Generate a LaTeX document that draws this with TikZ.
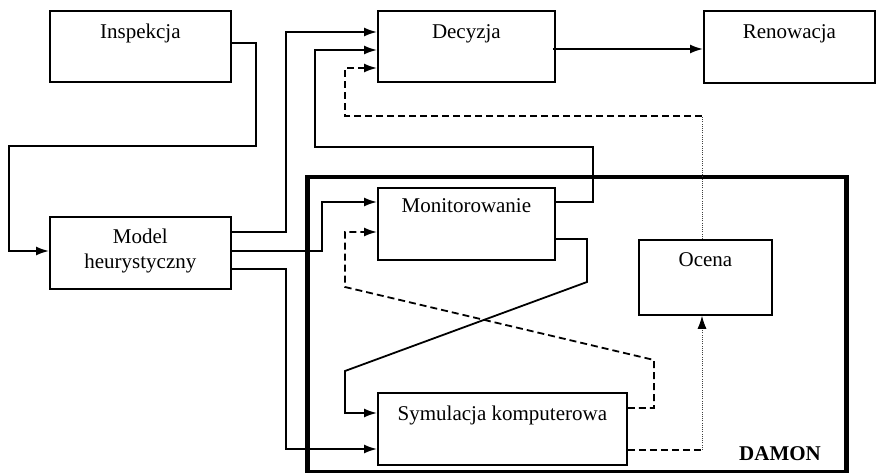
\documentclass[tikz,border=0pt]{standalone}
\usepackage{fontspec}
\setmainfont{Liberation Serif}
\usetikzlibrary{arrows.meta}
\begin{document}
\begin{tikzpicture}[x=1pt,y=-1pt,
  box/.style={draw, line width=1.8pt, inner sep=0pt, anchor=north west},
  txt/.style={anchor=base, inner sep=0pt, font=\fontsize{21}{25}\selectfont},
  conn/.style={line width=1.8pt},
  arr/.style={conn, -{Latex[length=13pt,width=9pt]}},
  dsh/.style={dash pattern=on 7pt off 4pt},
  dotl/.style={line width=1pt, dash pattern=on 1pt off 1.2pt, black!75},
]
\useasboundingbox (0,0) rectangle (876,473);
% frame
\node[draw, line width=4.5pt, inner sep=0pt, anchor=north west, minimum width=539pt, minimum height=295pt] (damon) at (305,175) {};
\node[txt, font=\fontsize{21}{25}\selectfont\bfseries] (damonT) at (780,460) {DAMON};
% boxes
\node[box, minimum width=181pt, minimum height=71pt] (insp) at (49,10) {};
\node[box, minimum width=177pt, minimum height=71pt] (dec) at (377,10) {};
\node[box, minimum width=171pt, minimum height=72pt] (ren) at (703,10) {};
\node[box, minimum width=181pt, minimum height=72pt] (model) at (49,216) {};
\node[box, minimum width=177pt, minimum height=72pt] (mon) at (377,187) {};
\node[box, minimum width=133pt, minimum height=75pt] (oc) at (638,239) {};
\node[box, minimum width=249pt, minimum height=72pt] (sym) at (377,392) {};
% texts
\node[txt] (inspT) at (insp.north |- 0,39) {Inspekcja};
\node[txt] (decT) at (dec.north |- 0,39) {Decyzja};
\node[txt] (renT) at (ren.north |- 0,39) {Renowacja};
\node[txt] (modelT1) at (model.north |- 0,244) {Model};
\node[txt] (modelT2) at (model.north |- 0,269) {heurystyczny};
\node[txt] (monT) at (mon.north |- 0,213) {Monitorowanie};
\node[txt] (ocT) at (oc.north |- 0,267) {Ocena};
\node[txt] (symT) at (sym.north |- 0,420) {Symulacja komputerowa};
% connectors
\draw[arr] (insp.east |- 0,43) -- (256,43) -- (256,146) -- (9,146) -- (9,251) -- (model.west |- 0,251);
\draw[arr] (model.east |- 0,232) -- (286,232) -- (286,32) -- (dec.west |- 0,32);
\draw[arr] (model.east |- 0,251) -- (322,251) -- (322,202) -- (mon.west |- 0,202);
\draw[arr] (model.east |- 0,269) -- (286,269) -- (286,449) -- (sym.west |- 0,449);
\draw[arr] (mon.east |- 0,202) -- (593,202) -- (593,147) -- (315,147) -- (315,50) -- (dec.west |- 0,50);
\draw[arr] (mon.east |- 0,239) -- (587,239) -- (587,282) -- (345,371) -- (345,413) -- (sym.west |- 0,413);
\draw[arr, dsh] (sym.east |- 0,408) -- (654,408) -- (654,360) -- (345,287) -- (345,232) -- (mon.west |- 0,232);
\coordinate (c1) at (702,450);
\coordinate (c2) at (702,116);
\draw[conn, dsh] (sym.east |- c1) -- (c1);
\draw[dotl, -{Latex[length=13pt,width=9pt,black]}] (c1) -- (c1 |- oc.south);
\draw[dotl] (c1 |- oc.north) -- (c2);
\draw[arr, dsh] (c2) -- (345,116) -- (345,68) -- (dec.west |- 0,68);
\draw[arr] ([xshift=-3pt]dec.east |- 0,49) -- (ren.west |- 0,49);
\end{tikzpicture}
\end{document}
